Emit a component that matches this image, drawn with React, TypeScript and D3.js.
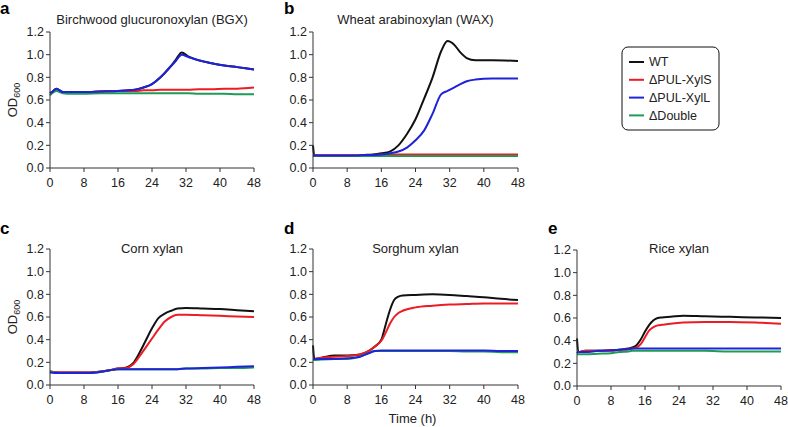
import React from "react";
import * as d3 from "d3";

// ---------- data ----------
const seriesNames = ["WT", "ΔPUL-XylS", "ΔPUL-XylL", "ΔDouble"];
const seriesColors = ["#111111", "#ec1c24", "#1f23d8", "#1e9b57"];
const xTicks = [0, 8, 16, 24, 32, 40, 48];
const yTicks = [0, 0.2, 0.4, 0.6, 0.8, 1.0, 1.2];

// a: Birchwood glucuronoxylan (BGX)
const timeA = [0, 0.5, 1.5, 3, 5, 8, 12, 16, 20, 22, 24, 26, 28, 29.5, 31, 32.5, 35, 38, 41, 44, 48];
const wtA = [0.66, 0.67, 0.70, 0.67, 0.67, 0.67, 0.675, 0.68, 0.69, 0.71, 0.74, 0.80, 0.88, 0.95, 1.02, 0.985, 0.95, 0.925, 0.905, 0.89, 0.87];
const xylSA = [0.66, 0.67, 0.69, 0.67, 0.67, 0.67, 0.675, 0.68, 0.68, 0.685, 0.685, 0.69, 0.69, 0.69, 0.69, 0.69, 0.695, 0.695, 0.70, 0.70, 0.71];
const xylLA = [0.66, 0.67, 0.70, 0.67, 0.67, 0.67, 0.675, 0.68, 0.69, 0.71, 0.74, 0.80, 0.88, 0.94, 1.00, 0.98, 0.95, 0.925, 0.905, 0.89, 0.87];
const doubleA = [0.64, 0.66, 0.68, 0.66, 0.655, 0.655, 0.66, 0.66, 0.66, 0.66, 0.66, 0.66, 0.66, 0.66, 0.66, 0.66, 0.655, 0.655, 0.655, 0.65, 0.65];

// b: Wheat arabinoxylan (WAX)
const timeB = [0, 0.3, 2, 6, 10, 12, 14, 16, 18, 20, 22, 24, 26, 28, 30, 31.5, 33, 34.5, 36, 38, 42, 48];
const wtB = [0.20, 0.11, 0.11, 0.11, 0.11, 0.115, 0.12, 0.13, 0.145, 0.20, 0.30, 0.43, 0.61, 0.80, 1.03, 1.12, 1.09, 1.02, 0.97, 0.95, 0.95, 0.945];
const xylSB = [0.11, 0.11, 0.11, 0.11, 0.11, 0.115, 0.115, 0.12, 0.12, 0.12, 0.12, 0.12, 0.12, 0.12, 0.12, 0.12, 0.12, 0.12, 0.12, 0.12, 0.12, 0.12];
const xylLB = [0.11, 0.11, 0.11, 0.11, 0.11, 0.115, 0.115, 0.12, 0.13, 0.145, 0.18, 0.245, 0.33, 0.48, 0.65, 0.68, 0.71, 0.74, 0.765, 0.78, 0.79, 0.79];
const doubleB = [0.11, 0.105, 0.105, 0.105, 0.105, 0.105, 0.105, 0.105, 0.105, 0.105, 0.105, 0.105, 0.105, 0.105, 0.105, 0.105, 0.105, 0.105, 0.105, 0.105, 0.105, 0.105];

// c: Corn xylan
const timeC = [0, 2, 5, 8, 11, 14, 16, 18, 19.5, 21, 22.5, 24, 25.5, 27, 28.5, 30, 32, 36, 40, 44, 48];
const wtC = [0.12, 0.11, 0.11, 0.11, 0.115, 0.13, 0.145, 0.155, 0.19, 0.28, 0.39, 0.50, 0.59, 0.63, 0.655, 0.675, 0.68, 0.675, 0.67, 0.66, 0.65];
const xylSC = [0.12, 0.11, 0.11, 0.11, 0.115, 0.13, 0.145, 0.15, 0.18, 0.25, 0.33, 0.41, 0.49, 0.56, 0.60, 0.62, 0.62, 0.615, 0.61, 0.605, 0.60];
const xylLC = [0.11, 0.105, 0.105, 0.105, 0.11, 0.13, 0.14, 0.14, 0.14, 0.14, 0.14, 0.14, 0.14, 0.14, 0.14, 0.14, 0.145, 0.15, 0.155, 0.16, 0.165];
const doubleC = [0.12, 0.105, 0.105, 0.105, 0.11, 0.13, 0.14, 0.14, 0.14, 0.14, 0.14, 0.14, 0.14, 0.14, 0.14, 0.14, 0.145, 0.145, 0.15, 0.15, 0.155];

// d: Sorghum xylan
const timeD = [0, 0.3, 2, 5, 8, 11, 13, 14.5, 16, 17, 18, 19, 20, 21, 24, 28, 32, 36, 40, 44, 48];
const wtD = [0.35, 0.23, 0.24, 0.26, 0.26, 0.27, 0.30, 0.34, 0.40, 0.53, 0.66, 0.75, 0.78, 0.79, 0.795, 0.80, 0.795, 0.785, 0.775, 0.76, 0.75];
const xylSD = [0.23, 0.23, 0.24, 0.25, 0.255, 0.27, 0.30, 0.34, 0.39, 0.46, 0.54, 0.60, 0.635, 0.655, 0.685, 0.70, 0.71, 0.715, 0.72, 0.72, 0.72];
const xylLD = [0.23, 0.23, 0.23, 0.23, 0.235, 0.25, 0.28, 0.30, 0.305, 0.305, 0.305, 0.305, 0.305, 0.305, 0.305, 0.305, 0.305, 0.305, 0.305, 0.30, 0.30];
const doubleD = [0.22, 0.22, 0.225, 0.23, 0.23, 0.25, 0.28, 0.30, 0.30, 0.30, 0.30, 0.30, 0.30, 0.30, 0.30, 0.30, 0.30, 0.295, 0.295, 0.29, 0.29];

// e: Rice xylan
const timeE = [0, 0.3, 2, 5, 8, 10, 12, 13, 14, 15, 16, 17, 18, 19, 20, 22, 25, 30, 36, 42, 48];
const wtE = [0.42, 0.30, 0.31, 0.31, 0.315, 0.32, 0.33, 0.34, 0.36, 0.41, 0.48, 0.54, 0.58, 0.60, 0.605, 0.61, 0.62, 0.615, 0.61, 0.605, 0.60];
const xylSE = [0.30, 0.30, 0.31, 0.31, 0.31, 0.32, 0.325, 0.33, 0.34, 0.37, 0.43, 0.49, 0.52, 0.535, 0.54, 0.55, 0.56, 0.565, 0.565, 0.56, 0.55];
const xylLE = [0.29, 0.30, 0.30, 0.31, 0.315, 0.32, 0.325, 0.33, 0.33, 0.33, 0.33, 0.33, 0.33, 0.33, 0.33, 0.33, 0.33, 0.33, 0.33, 0.33, 0.33];
const doubleE = [0.28, 0.28, 0.28, 0.285, 0.29, 0.30, 0.305, 0.31, 0.31, 0.31, 0.31, 0.31, 0.31, 0.31, 0.31, 0.31, 0.31, 0.31, 0.305, 0.305, 0.305];

const panelLetters = ["a", "b", "c", "d", "e"];
const panelTitles = [
  "Birchwood glucuronoxylan (BGX)",
  "Wheat arabinoxylan (WAX)",
  "Corn xylan",
  "Sorghum xylan",
  "Rice xylan",
];

// ---------- layout ----------
const FONT = "'Liberation Sans', Arial, Helvetica, sans-serif";
const panels = [
  { time: timeA, series: [wtA, xylSA, xylLA, doubleA], x0: 50, x1: 254, yTop: 32, yBot: 168, letterX: 0, letterY: 14, titleY: 24, odLabel: true, timeLabel: false },
  { time: timeB, series: [wtB, xylSB, xylLB, doubleB], x0: 313, x1: 518, yTop: 32, yBot: 168, letterX: 284, letterY: 14, titleY: 24, odLabel: false, timeLabel: false },
  { time: timeC, series: [wtC, xylSC, xylLC, doubleC], x0: 50, x1: 254, yTop: 249, yBot: 385, letterX: 0, letterY: 234, titleY: 253, odLabel: true, timeLabel: false },
  { time: timeD, series: [wtD, xylSD, xylLD, doubleD], x0: 313, x1: 518, yTop: 249, yBot: 385, letterX: 284, letterY: 234, titleY: 253, odLabel: false, timeLabel: true },
  { time: timeE, series: [wtE, xylSE, xylLE, doubleE], x0: 577, x1: 781, yTop: 250, yBot: 386, letterX: 548, letterY: 234, titleY: 253, odLabel: false, timeLabel: false },
];
const drawOrder = [0, 1, 3, 2];

function Panel({ p, i }: { p: any; i: number }) {
  const x = d3.scaleLinear().domain([0, 48]).range([p.x0, p.x1]);
  const y = d3.scaleLinear().domain([0, 1.2]).range([p.yBot, p.yTop]);
  const line = d3
    .line<number>()
    .x((_, k) => x(p.time[k]))
    .y((v) => y(v))
    .curve(d3.curveMonotoneX);
  const axisColor = "#333";
  return (
    <g>
      {/* lines */}
      {drawOrder.map((s) => (
        <path key={s} d={line(p.series[s]) || ""} fill="none" stroke={seriesColors[s]} strokeWidth={2} strokeLinejoin="round" />
      ))}
      {/* y axis */}
      <line x1={p.x0} x2={p.x0} y1={y(0)} y2={y(1.2)} stroke={axisColor} strokeWidth={1} />
      {yTicks.map((t) => (
        <g key={"y" + t}>
          <line x1={p.x0 - 4} x2={p.x0} y1={y(t)} y2={y(t)} stroke={axisColor} strokeWidth={1} />
          <text x={p.x0 - 6} y={y(t)} dy="0.35em" textAnchor="end" fontSize={12.5} fontFamily={FONT} fill="#222">
            {t.toFixed(1)}
          </text>
        </g>
      ))}
      {/* x axis */}
      <line x1={p.x0} x2={p.x1} y1={p.yBot} y2={p.yBot} stroke={axisColor} strokeWidth={1} />
      {xTicks.map((t) => (
        <g key={"x" + t}>
          <line x1={x(t)} x2={x(t)} y1={p.yBot} y2={p.yBot + 4} stroke={axisColor} strokeWidth={1} />
          <text x={x(t)} y={p.yBot + 19} textAnchor="middle" fontSize={12.5} fontFamily={FONT} fill="#222">
            {t}
          </text>
        </g>
      ))}
      {/* title */}
      <text x={(p.x0 + p.x1) / 2} y={p.titleY} textAnchor="middle" fontSize={13} fontFamily={FONT} fill="#222">
        {panelTitles[i]}
      </text>
      {/* letter */}
      <text x={p.letterX} y={p.letterY} fontSize={17} fontWeight="bold" fontFamily={FONT} fill="#000">
        {panelLetters[i]}
      </text>
      {p.odLabel && (
        <text
          transform={`translate(${17},${(p.yTop + p.yBot) / 2}) rotate(-90)`}
          textAnchor="middle"
          fontSize={13}
          fontFamily={FONT}
          fill="#222"
        >
          OD
          <tspan fontSize={9} dy={3}>600</tspan>
        </text>
      )}
      {p.timeLabel && (
        <text x={(p.x0 + p.x1) / 2 - 3} y={423} textAnchor="middle" fontSize={13} fontFamily={FONT} fill="#222">
          Time (h)
        </text>
      )}
    </g>
  );
}

function Legend() {
  const lx = 622;
  const ly = 47;
  return (
    <g>
      <rect x={lx} y={ly} width={97} height={83} rx={6} ry={6} fill="#fff" stroke="#111" strokeWidth={1} />
      {seriesNames.map((n, k) => (
        <g key={n}>
          <line x1={lx + 7} x2={lx + 22} y1={ly + 15 + k * 17.8} y2={ly + 15 + k * 17.8} stroke={seriesColors[k]} strokeWidth={2} />
          <text x={lx + 27} y={ly + 15 + k * 17.8} dy="0.35em" fontSize={12.5} fontFamily={FONT} fill="#222">
            {n}
          </text>
        </g>
      ))}
    </g>
  );
}

export default function App() {
  return (
    <svg width={788} height={427} style={{ position: "absolute", left: 0, top: 0, background: "#fff" }}>
      <rect x={0} y={0} width={788} height={427} fill="#fff" />
      {panels.map((p, i) => (
        <Panel key={i} p={p} i={i} />
      ))}
      <Legend />
    </svg>
  );
}
